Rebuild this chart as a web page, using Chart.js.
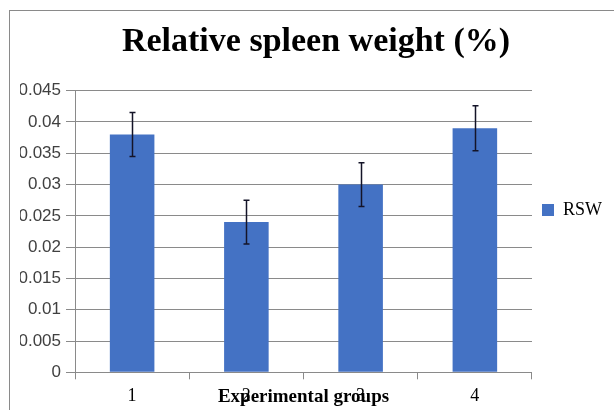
<!DOCTYPE html>
<html>
<head>
<meta charset="utf-8">
<script src="https://cdn.jsdelivr.net/npm/chart.js@4/dist/chart.umd.min.js"></script>
<style>
  html, body { margin: 0; padding: 0; background: #fff; }
  #wrap { position: relative; width: 614px; height: 410px; overflow: hidden; }
  #frame { position: absolute; left: 9px; top: 10px; width: 700px; height: 500px;
           border-left: 1px solid #8a8a8a; border-top: 1px solid #8a8a8a; }
  canvas { position: absolute; left: 0; top: 0; }
</style>
</head>
<body>
<div id="wrap">
  <div id="frame"></div>
  <canvas id="c" width="614" height="410"></canvas>
</div>
<script>
const categories = ['1', '2', '3', '4'];
const rswValues = [0.038, 0.024, 0.030, 0.039];
const rswErrors = [0.0035, 0.0035, 0.0035, 0.0036];
const seriesName = 'RSW';
const chartTitle = 'Relative spleen weight (%)';
const xTitle = 'Experimental groups';

const errorBars = {
  id: 'errorBars',
  afterDatasetsDraw(chart) {
    const ctx = chart.ctx;
    const y = chart.scales.y;
    const meta = chart.getDatasetMeta(0);
    ctx.save();
    ctx.strokeStyle = '#141428';
    ctx.lineWidth = 1.5;
    meta.data.forEach((bar, i) => {
      const v = rswValues[i], e = rswErrors[i];
      const yt = y.getPixelForValue(v + e);
      const yb = y.getPixelForValue(v - e);
      const x = Math.round(bar.x) + 0.5;
      ctx.beginPath();
      ctx.moveTo(x, yt); ctx.lineTo(x, yb);
      ctx.moveTo(x - 3, yt); ctx.lineTo(x + 3, yt);
      ctx.moveTo(x - 3, yb); ctx.lineTo(x + 3, yb);
      ctx.stroke();
    });
    ctx.restore();
  }
};

new Chart(document.getElementById('c'), {
  type: 'bar',
  data: {
    labels: categories,
    datasets: [{
      label: seriesName,
      data: rswValues,
      backgroundColor: '#4472C4',
      borderWidth: 0,
      categoryPercentage: 1,
      barPercentage: 0.39
    }]
  },
  options: {
    responsive: false,
    animation: false,
    devicePixelRatio: 1,
    layout: { padding: { left: 20, right: 2, top: 10, bottom: 0 } },
    plugins: {
      title: {
        display: true,
        text: chartTitle,
        color: '#000',
        font: { family: 'Liberation Serif', size: 34, weight: 'bold' },
        padding: { top: 11.4, bottom: 28.5 }
      },
      legend: {
        position: 'right',
        labels: {
          boxWidth: 12, boxHeight: 12,
          color: '#000',
          font: { family: 'Liberation Serif', size: 18 },
          padding: 10
        }
      },
      tooltip: { enabled: false }
    },
    scales: {
      x: {
        afterFit: s => { s.height = 37.7; },
        grid: { display: true, drawOnChartArea: false, tickLength: 7, color: '#8a8a8a' },
        border: { display: true, color: '#8a8a8a' },
        ticks: { color: '#000', font: { family: 'Liberation Serif', size: 18 }, padding: 6 },
        title: {
          display: true, text: xTitle, color: '#000',
          font: { family: 'Liberation Serif', size: 19, weight: 'bold' },
          padding: { top: 0, bottom: 1.7 }
        }
      },
      y: {
        afterFit: s => { s.width = 55; },
        min: 0, max: 0.045,
        grid: { color: '#8a8a8a', tickLength: 9 },
        border: { display: true, color: '#8a8a8a' },
        ticks: {
          stepSize: 0.005,
          color: '#404040',
          font: { family: 'Liberation Sans', size: 17 },
          padding: 5,
          callback: v => String(parseFloat(Number(v).toFixed(3)))
        }
      }
    }
  },
  plugins: [errorBars]
});
</script>
</body>
</html>
